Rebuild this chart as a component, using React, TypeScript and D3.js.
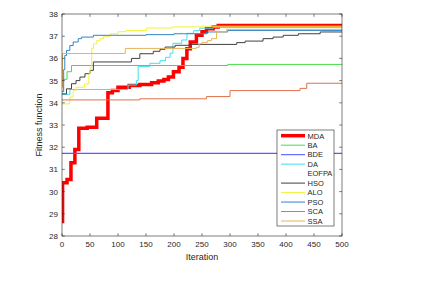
import React from 'react';
import * as d3 from 'd3';

// [iteration, fitness] change points (stairs)
const MDA: [number, number][] = [[0, 28.65], [1, 30.4], [9, 30.55], [16, 31.3], [23, 31.9], [30, 32.85], [45, 32.9], [62, 33.3], [82, 34.45], [90, 34.55], [100, 34.7], [120, 34.78], [139, 34.82], [160, 34.9], [172, 34.98], [182, 35.05], [190, 35.16], [199, 35.4], [209, 35.6], [216, 35.99], [223, 36.44], [229, 36.74], [240, 37.04], [250, 37.2], [258, 37.34], [270, 37.42], [279, 37.48], [500, 37.48]];
const BA: [number, number][] = [[0, 35.06], [9, 35.4], [17, 35.68], [296, 35.73], [500, 35.73]];
const BDE: [number, number][] = [[0, 31.72], [500, 31.72]];
const DA: [number, number][] = [[0, 34.38], [14, 34.6], [116, 34.6], [118, 34.8], [133, 35.0], [136, 35.63], [157, 35.78], [175, 35.9], [185, 36.05], [193, 36.23], [198, 36.68], [214, 36.83], [223, 37.13], [235, 37.25], [246, 37.36], [270, 37.4], [500, 37.42]];
const EOFPA: [number, number][] = [[0, 37.48], [500, 37.48]];
const HSO: [number, number][] = [[0, 34.4], [8, 34.63], [17, 34.86], [25, 35.0], [32, 35.16], [41, 35.31], [50, 35.46], [56, 35.84], [124, 36.0], [139, 36.21], [163, 36.32], [175, 36.41], [184, 36.51], [202, 36.59], [229, 36.63], [312, 36.71], [327, 36.78], [359, 36.89], [377, 36.96], [395, 37.04], [422, 37.11], [461, 37.19], [500, 37.19]];
const ALO: [number, number][] = [[0, 33.95], [14, 34.26], [20, 34.56], [25, 34.7], [40, 34.85], [48, 35.3], [50, 35.6], [53, 36.44], [56, 36.66], [62, 36.8], [68, 36.89], [74, 37.0], [86, 37.11], [100, 37.2], [115, 37.26], [151, 37.37], [198, 37.42], [250, 37.45], [500, 37.46]];
const PSO: [number, number][] = [[0, 34.5], [3, 35.5], [5, 36.13], [8, 36.36], [14, 36.58], [20, 36.74], [29, 36.89], [35, 36.96], [56, 37.04], [150, 37.07], [200, 37.11], [258, 37.19], [296, 37.26], [500, 37.3]];
const SCA: [number, number][] = [[0, 34.13], [139, 34.18], [258, 34.28], [300, 34.55], [425, 34.65], [437, 34.88], [500, 34.88]];
const SSA: [number, number][] = [[0, 34.7], [1, 36.22], [113, 36.45], [240, 36.5], [245, 36.66], [250, 36.72], [260, 36.8], [267, 36.89], [276, 37.19], [294, 37.31], [500, 37.35]];

const names = ['MDA', 'BA', 'BDE', 'DA', 'EOFPA', 'HSO', 'ALO', 'PSO', 'SCA', 'SSA'];
const seriesData = [MDA, BA, BDE, DA, EOFPA, HSO, ALO, PSO, SCA, SSA];
const colors = ['#ff0000', '#44dd44', '#5a5aff', '#3fe0f0', '#ffffff', '#404040', '#f2f23a', '#2f86c8', '#e0704a', '#e6b45a'];
const widths = [3.5, 1, 1.1, 1, 1, 1, 1, 1, 1, 1];

const xTicks = [0, 50, 100, 150, 200, 250, 300, 350, 400, 450, 500];
const yTicks = [28, 29, 30, 31, 32, 33, 34, 35, 36, 37, 38];

const W = 426, H = 282;
const margin = { top: 14, right: 84, bottom: 46, left: 62 };
const font = 'Liberation Sans, Arial, sans-serif';
const axisCol = '#262626';

export default function App() {
  const x = d3.scaleLinear().domain([0, 500]).range([margin.left, W - margin.right]);
  const y = d3.scaleLinear().domain([28, 38]).range([H - margin.bottom, margin.top]);
  const line = d3.line<[number, number]>()
    .x(d => x(d[0]))
    .y(d => y(d[1]))
    .curve(d3.curveStepAfter);

  const x0 = x(0), x1 = x(500), y0 = y(28), y1 = y(38);
  const tl = 2.8;

  // draw white EOFPA first so it hides nothing
  const order = [4, 0, 1, 2, 3, 5, 6, 7, 8, 9];

  const lg = { x: 277, y: 130, w: 57, h: 96, row: 9.48 };

  return (
    <div style={{ position: 'fixed', left: 0, top: 0 }}>
      <svg width={W} height={H} style={{ display: 'block', background: '#fff' }}>
        <defs>
          <clipPath id="plot">
            <rect x={x0} y={y1} width={x1 - x0} height={y0 - y1} />
          </clipPath>
        </defs>
        <g clipPath="url(#plot)">
          {order.map(i => (
            <path key={names[i]} d={line(seriesData[i]) || ''} fill="none"
              stroke={colors[i]} strokeWidth={widths[i]} strokeLinejoin="miter" />
          ))}
        </g>
        {/* box */}
        <rect x={x0} y={y1} width={x1 - x0} height={y0 - y1} fill="none" stroke={axisCol} strokeWidth={0.6} />
        {xTicks.map(t => (
          <g key={'x' + t}>
            <line x1={x(t)} x2={x(t)} y1={y0} y2={y0 - tl} stroke={axisCol} strokeWidth={0.6} />
            <line x1={x(t)} x2={x(t)} y1={y1} y2={y1 + tl} stroke={axisCol} strokeWidth={0.6} />
            <text x={x(t)} y={y0 + 11} fontSize={8} fontFamily={font} fill={axisCol} textAnchor="middle">{t}</text>
          </g>
        ))}
        {yTicks.map(t => (
          <g key={'y' + t}>
            <line x1={x0} x2={x0 + tl} y1={y(t)} y2={y(t)} stroke={axisCol} strokeWidth={0.6} />
            <line x1={x1} x2={x1 - tl} y1={y(t)} y2={y(t)} stroke={axisCol} strokeWidth={0.6} />
            <text x={x0 - 4} y={y(t) + 3} fontSize={8} fontFamily={font} fill={axisCol} textAnchor="end">{t}</text>
          </g>
        ))}
        <text x={(x0 + x1) / 2} y={y0 + 24} fontSize={9} fontFamily={font} fill={axisCol} textAnchor="middle">Iteration</text>
        <text transform={`translate(${x0 - 20},${(y0 + y1) / 2}) rotate(-90)`} fontSize={9} fontFamily={font}
          fill={axisCol} textAnchor="middle">Fitness function</text>
        {/* legend */}
        <rect x={lg.x} y={lg.y} width={lg.w} height={lg.h} fill="#fff" stroke={axisCol} strokeWidth={0.6} />
        {names.map((n, i) => {
          const ly = lg.y + 5.7 + i * lg.row;
          return (
            <g key={'lg' + n}>
              <line x1={lg.x + 4} x2={lg.x + 28} y1={ly} y2={ly} stroke={colors[i]} strokeWidth={widths[i]} />
              <text x={lg.x + 30.5} y={ly + 2.8} fontSize={7.5} fontFamily={font} fill={axisCol}>{n}</text>
            </g>
          );
        })}
      </svg>
    </div>
  );
}
